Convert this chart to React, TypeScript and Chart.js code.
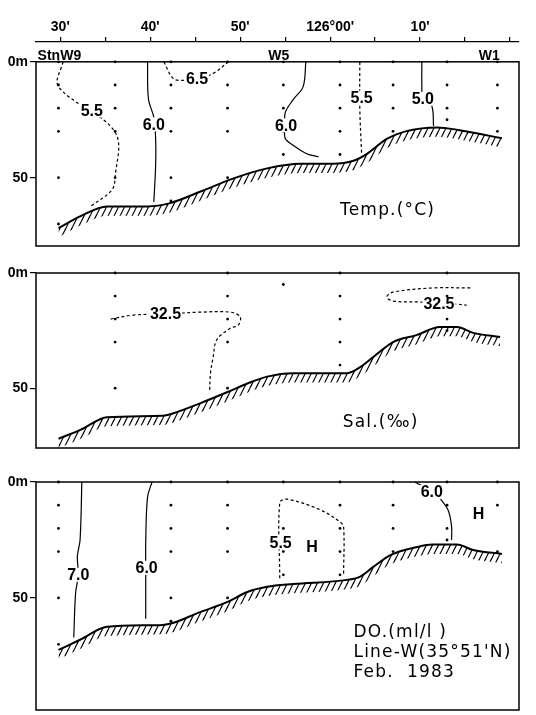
import React, { useEffect, useRef } from 'react';
import { Chart, registerables } from 'chart.js';

Chart.register(...registerables);

type P = [number, number];

// ---------- axes ----------
const X_MIN = 27.3;
const X_MAX = 81;
const LON_TICKS = [30, 35, 40, 45, 50, 55, 60, 65, 70, 75, 80];
const LON_LABELS: Record<number, string> = { 30: "30'", 40: "40'", 50: "50'", 60: "126°00'", 70: "10'" };
const DEPTH_TICKS = [0, 50];

// ---------- stations ----------
const STATION_LON = [29.8, 36.1, 42.3, 48.6, 54.8, 61.1, 67.0, 73.0, 78.6];
const STATION_TAGS = ['StnW9', 'W5', 'W1'];
const STATION_TAG_LON = [29.9, 54.3, 77.7];

// ---------- temperature ----------
const TEMP_SAMPLES: number[][] = [
  [0, 10, 20, 30, 50, 70],
  [0, 10, 20, 30, 50],
  [0, 10, 20, 30, 50, 60],
  [0, 10, 20, 30, 50],
  [0, 10, 20, 30, 40],
  [0, 10, 20, 30, 40],
  [0, 10, 20, 30],
  [0, 10, 20, 25],
  [0, 10, 20, 30],
];
const TEMP_BOTTOM: P[] = [[29.8, 71.8], [32.2, 66.7], [35.2, 62.4], [39.7, 62.4], [42.2, 61], [45.6, 56], [49.2, 50.4], [53, 46], [56.7, 44], [60.3, 44], [62.6, 42.7], [64.1, 39.7], [66.3, 33.3], [68.6, 29.8], [71.9, 28.3], [74.4, 29.5], [76.7, 31.2], [79.1, 33]];
const TEMP_55_W: P[] = [[30.3, 0], [29.8, 10.7], [36.1, 30.4], [36.1, 50], [35.7, 55.5], [33.4, 62.3]];
const TEMP_60_W: P[] = [[39.7, 0], [39.8, 16], [40.4, 24], [40.6, 33], [40.6, 45], [40.4, 60.5]];
const TEMP_65: P[] = [[41.5, 0], [42.6, 7.3], [43.9, 8], [45.2, 7.6], [47, 5], [48.7, 0]];
const TEMP_60_E: P[] = [[57.3, 0], [57, 10.7], [55.9, 16.3], [55, 22], [55, 27.4], [55, 33], [55.9, 36], [57.4, 39.7], [58.7, 41]];
const TEMP_55_E: P[] = [[63.3, 0], [63.3, 20], [63.5, 39.7]];
const TEMP_50: P[] = [[70.2, 0], [70.2, 10.5], [70.3, 15], [71.3, 19], [71.5, 27.7]];
const TEMP_LABELS = ['5.5', '6.0', '6.5', '6.0', '5.5', '5.0'];
const TEMP_LABEL_AT: P[] = [[33.5, 21], [40.4, 27], [45.2, 7.3], [55.1, 27.4], [63.5, 15.5], [70.3, 16]];

// ---------- salinity ----------
const SAL_SAMPLES: number[][] = [
  [],
  [0, 10, 20, 30, 50],
  [],
  [0, 10, 20, 30, 50],
  [5],
  [0, 10, 20, 30, 40],
  [],
  [0, 10, 20, 25],
  [],
];
const SAL_BOTTOM: P[] = [[29.8, 72], [32.3, 68], [35.2, 62.6], [41.4, 62], [42.5, 61], [45.6, 56.5], [48.6, 51.7], [50.8, 48], [53, 45], [55.9, 43.5], [61.9, 43.5], [63.3, 41], [64.8, 36.5], [67, 30], [69.6, 27], [72.2, 23.5], [74.1, 23.5], [75.9, 26], [78.9, 27.8]];
const SAL_325_W: P[] = [[35.6, 20], [38.1, 18.3], [41.7, 17.8], [45.6, 17], [48.9, 17], [50, 19], [49.8, 22.6], [48.9, 24], [47.4, 29], [47, 36.5], [46.7, 43.5], [46.6, 51.7]];
const SAL_325_E: P[] = [[75.6, 6.5], [71.4, 6.5], [67, 8.3], [66.3, 10.4], [67, 12.2], [70, 12.6], [71.9, 13], [74.1, 13.5], [75.2, 14]];
const SAL_LABELS = ['32.5', '32.5'];
const SAL_LABEL_AT: P[] = [[41.7, 17.8], [72.1, 13.5]];

// ---------- dissolved oxygen ----------
const DO_SAMPLES: number[][] = [
  [0, 10, 20, 30, 50, 70],
  [],
  [0, 10, 20, 30, 50, 60],
  [0, 10, 20, 30, 50],
  [0, 20, 30, 40],
  [0, 10, 20, 30, 40],
  [0, 10, 20, 30],
  [0, 10, 20, 25],
  [0, 10, 30],
];
const DO_BOTTOM: P[] = [[29.8, 72.4], [32.2, 68], [35.2, 62.4], [41.4, 61.6], [42.5, 60.8], [45.6, 56], [48.6, 51.7], [50.8, 47.4], [53, 45.2], [55.9, 44], [61.9, 42.2], [63.3, 40.9], [64.8, 36.6], [66.7, 31.5], [69.7, 28], [71.4, 27], [74.1, 27], [75.9, 29.3], [79.1, 31]];
const DO_70: P[] = [[32.4, 0], [32.2, 25], [31.9, 32], [32, 40], [31.7, 48], [31.5, 67]];
const DO_60_W: P[] = [[40.2, 0], [39.7, 6.5], [39.5, 26], [39.5, 37], [39.5, 45], [39.5, 59]];
const DO_55: P[] = [[54.4, 41.5], [54.4, 9], [55.2, 7.4], [58.9, 12], [61.1, 17.2], [61.5, 19.4], [61.5, 40]];
const DO_60_E: P[] = [[69.4, 0], [71.5, 4.3], [72.2, 7], [73.1, 12], [73.5, 19], [73.5, 25]];
const DO_LABELS = ['7.0', '6.0', '5.5', '6.0'];
const DO_LABEL_AT: P[] = [[32, 40], [39.6, 37], [54.5, 26], [71.3, 4.3]];
const DO_HIGHS = ['H', 'H'];
const DO_HIGH_AT: P[] = [[58, 28], [76.5, 13.5]];

// ---------- titles ----------
const TEMP_TITLE = ['Temp.(°C)'];
const SAL_TITLE = ['Sal.(‰)'];
const DO_TITLE = ['DO.(ml/l )', "Line-W(35°51'N)", 'Feb.  1983'];

const FONT_SANS = "'Liberation Sans', Arial, sans-serif";
const FONT_TITLE = "'DejaVu Sans', sans-serif";
const HATCH_M = 4;

interface Contour { pts: P[]; dash: boolean }
interface Lbl { text: string; at: P; bg: boolean }
interface PanelCfg {
  bottom: P[];
  contours: Contour[];
  labels: Lbl[];
  samples: number[][];
  yMin: number;
  yMax: number;
  padTop: number;
  padBottom: number;
  topAxis: boolean;
  titles: string[];
  titleAt: P;
  titleStep: number;
  stationTags: boolean;
}

function makePattern(ctx: CanvasRenderingContext2D) {
  const c = document.createElement('canvas');
  c.width = 6;
  c.height = 12;
  const g = c.getContext('2d')!;
  g.strokeStyle = '#000';
  g.lineWidth = 1.2;
  for (const dx of [-6, 0, 6]) {
    g.beginPath();
    g.moveTo(dx - 1, 14);
    g.lineTo(dx + 7, -2);
    g.stroke();
  }
  return ctx.createPattern(c, 'repeat');
}

function decor(cfg: PanelCfg) {
  return {
    id: 'decor',
    afterDatasetsDraw(chart: any) {
      const { ctx } = chart;
      const x = chart.scales.x;
      const y = chart.scales.y;
      ctx.save();
      ctx.font = `bold 16px ${FONT_SANS}`;
      ctx.textAlign = 'center';
      ctx.textBaseline = 'middle';
      for (const l of cfg.labels) {
        const px = x.getPixelForValue(l.at[0]);
        const py = y.getPixelForValue(l.at[1]);
        const w = ctx.measureText(l.text).width;
        if (l.bg) {
          ctx.fillStyle = '#fff';
          ctx.fillRect(px - w / 2 - 1, py - 7, w + 2, 14);
        }
        ctx.fillStyle = '#000';
        ctx.fillText(l.text, px, py + 1);
      }
      if (cfg.stationTags) {
        ctx.font = `bold 14px ${FONT_SANS}`;
        ctx.textBaseline = 'alphabetic';
        const py = y.getPixelForValue(0) - 2;
        STATION_TAGS.forEach((t, i) => {
          ctx.fillText(t, x.getPixelForValue(STATION_TAG_LON[i]), py);
        });
      }
      ctx.font = `17px ${FONT_TITLE}`;
      (ctx as any).letterSpacing = '1.2px';
      ctx.textAlign = 'left';
      ctx.textBaseline = 'middle';
      ctx.fillStyle = '#000';
      cfg.titles.forEach((t, i) => {
        ctx.fillText(t, x.getPixelForValue(cfg.titleAt[0]), y.getPixelForValue(cfg.titleAt[1] + i * cfg.titleStep));
      });
      (ctx as any).letterSpacing = '0px';
      ctx.restore();
    },
    afterDraw(chart: any) {
      const { ctx, chartArea: a } = chart;
      const top = chart.scales.y.getPixelForValue(0);
      ctx.save();
      ctx.strokeStyle = '#000';
      ctx.lineWidth = 1.5;
      ctx.strokeRect(a.left, top, a.right - a.left, a.bottom - top);
      ctx.restore();
    },
  };
}

function buildChart(canvas: HTMLCanvasElement, cfg: PanelCfg) {
  const ctx = canvas.getContext('2d')!;
  const pattern = makePattern(ctx);
  const toXY = (pts: P[]) => pts.map(([x, y]) => ({ x, y }));
  const dots: { x: number; y: number }[] = [];
  cfg.samples.forEach((depths, i) => depths.forEach((d) => dots.push({ x: STATION_LON[i], y: d })));

  const datasets: any[] = [
    {
      data: toXY(cfg.bottom),
      showLine: true,
      borderColor: '#000',
      borderWidth: 2,
      pointRadius: 0,
      cubicInterpolationMode: 'monotone',
      fill: false,
    },
    {
      data: cfg.bottom.map(([x, y]) => ({ x, y: y + HATCH_M })),
      showLine: true,
      borderColor: 'rgba(0,0,0,0)',
      borderWidth: 0,
      pointRadius: 0,
      cubicInterpolationMode: 'monotone',
      fill: '-1',
      backgroundColor: pattern,
    },
    ...cfg.contours.map((c) => ({
      data: toXY(c.pts),
      showLine: true,
      borderColor: '#000',
      borderWidth: 1.2,
      borderDash: c.dash ? [3, 2.5] : [],
      pointRadius: 0,
      tension: 0.35,
      fill: false,
    })),
    {
      data: dots,
      showLine: false,
      pointRadius: 1.4,
      pointBackgroundColor: '#000',
      pointBorderWidth: 0,
      clip: false,
    },
  ];

  return new Chart(canvas, {
    type: 'scatter',
    data: { datasets },
    options: {
      animation: false,
      responsive: false,
      devicePixelRatio: 1,
      events: [],
      layout: { padding: { left: 0, right: 17, top: cfg.padTop, bottom: cfg.padBottom } },
      plugins: { legend: { display: false }, tooltip: { enabled: false } },
      scales: {
        x: {
          type: 'linear',
          position: 'top',
          display: cfg.topAxis,
          min: X_MIN,
          max: X_MAX,
          afterBuildTicks: (s: any) => {
            s.ticks = LON_TICKS.map((v) => ({ value: v }));
          },
          afterFit: (s: any) => {
            s.height = cfg.topAxis ? 42 : 0;
            s.paddingLeft = 0;
            s.paddingRight = 0;
          },
          ticks: {
            autoSkip: false,
            maxRotation: 0,
            padding: 1,
            color: '#000',
            font: { family: FONT_SANS, size: 14, weight: 'bold' },
            callback: (v: any) => LON_LABELS[v as number] ?? '',
          },
          grid: { drawOnChartArea: false, drawTicks: true, tickLength: 5, color: '#000', lineWidth: 1.2 },
          border: { display: true, color: '#000', width: 1.3 },
        },
        y: {
          type: 'linear',
          reverse: true,
          min: cfg.yMin,
          max: cfg.yMax,
          afterBuildTicks: (s: any) => {
            s.ticks = DEPTH_TICKS.map((v) => ({ value: v }));
          },
          afterFit: (s: any) => {
            s.width = 36;
            s.paddingTop = 0;
            s.paddingBottom = 0;
          },
          ticks: {
            padding: 2,
            color: '#000',
            font: { family: FONT_SANS, size: 14, weight: 'bold' },
            callback: (v: any) => (v === 0 ? '0m' : String(v)),
          },
          grid: { drawOnChartArea: false, drawTicks: true, tickLength: 6, color: '#000', lineWidth: 1.2 },
          border: { display: false },
        },
      },
    } as any,
    plugins: [decor(cfg)],
  });
}

const mkLabels = (texts: string[], at: P[], bg = true): Lbl[] => texts.map((t, i) => ({ text: t, at: at[i], bg }));

export default function App() {
  const r1 = useRef<HTMLCanvasElement>(null);
  const r2 = useRef<HTMLCanvasElement>(null);
  const r3 = useRef<HTMLCanvasElement>(null);

  useEffect(() => {
    const temp: PanelCfg = {
      bottom: TEMP_BOTTOM,
      contours: [
        { pts: TEMP_55_W, dash: true },
        { pts: TEMP_60_W, dash: false },
        { pts: TEMP_65, dash: true },
        { pts: TEMP_60_E, dash: false },
        { pts: TEMP_55_E, dash: true },
        { pts: TEMP_50, dash: false },
      ],
      labels: mkLabels(TEMP_LABELS, TEMP_LABEL_AT),
      samples: TEMP_SAMPLES,
      yMin: -8.55,
      yMax: 79.5,
      padTop: 0,
      padBottom: 2,
      topAxis: true,
      titles: TEMP_TITLE,
      titleAt: [61.1, 64],
      titleStep: 0,
      stationTags: true,
    };
    const sal: PanelCfg = {
      bottom: SAL_BOTTOM,
      contours: [
        { pts: SAL_325_W, dash: true },
        { pts: SAL_325_E, dash: true },
      ],
      labels: mkLabels(SAL_LABELS, SAL_LABEL_AT),
      samples: SAL_SAMPLES,
      yMin: 0,
      yMax: 76,
      padTop: 21,
      padBottom: 4,
      topAxis: false,
      titles: SAL_TITLE,
      titleAt: [61.4, 64.8],
      titleStep: 0,
      stationTags: false,
    };
    const dox: PanelCfg = {
      bottom: DO_BOTTOM,
      contours: [
        { pts: DO_70, dash: false },
        { pts: DO_60_W, dash: false },
        { pts: DO_55, dash: true },
        { pts: DO_60_E, dash: false },
      ],
      labels: [...mkLabels(DO_LABELS, DO_LABEL_AT), ...mkLabels(DO_HIGHS, DO_HIGH_AT, false)],
      samples: DO_SAMPLES,
      yMin: 0,
      yMax: 98.3,
      padTop: 20,
      padBottom: 5,
      topAxis: false,
      titles: DO_TITLE,
      titleAt: [62.6, 65],
      titleStep: 8.6,
      stationTags: false,
    };
    const charts = [buildChart(r1.current!, temp), buildChart(r2.current!, sal), buildChart(r3.current!, dox)];
    return () => charts.forEach((c) => c.destroy());
  }, []);

  const cs = (top: number): React.CSSProperties => ({ position: 'absolute', left: 0, top });
  return (
    <div style={{ position: 'absolute', left: 0, top: 0, width: 536, height: 715, background: '#fff', overflow: 'hidden' }}>
      <canvas ref={r1} width={536} height={250} style={cs(0)} />
      <canvas ref={r2} width={536} height={200} style={cs(252)} />
      <canvas ref={r3} width={536} height={253} style={cs(462)} />
    </div>
  );
}
